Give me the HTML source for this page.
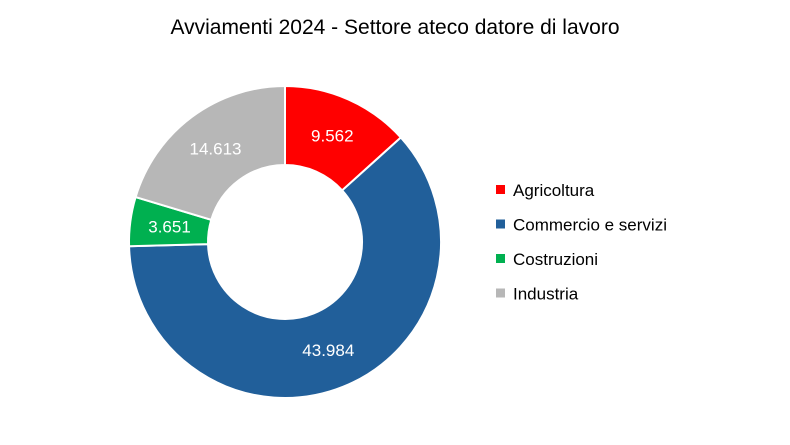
<!DOCTYPE html>
<html><head><meta charset="utf-8">
<style>
body{margin:0;background:#fff;font-family:"Liberation Sans",Arial,sans-serif;}
svg text{font-family:"Liberation Sans",Arial,sans-serif;}
</style></head>
<body>
<svg id="chart" width="790" height="440" viewBox="0 0 790 440">
<rect width="790" height="440" fill="#fff"/>
<text x="395" y="34" text-anchor="middle" font-size="21" fill="#000">Avviamenti 2024 - Settore ateco datore di lavoro</text>
<g id="slices"></g>
<g id="labels"></g>
<g id="legend"></g>
</svg>
<script>
const categories = ["Agricoltura","Commercio e servizi","Costruzioni","Industria"];
const values = [9562, 43984, 3651, 14613];
const valueLabels = ["9.562","43.984","3.651","14.613"];
const colors = ["#ff0000","#215f9a","#00b050","#b7b7b7"];

const NS="http://www.w3.org/2000/svg";
const cx=285, cy=242, R=156, r=77;
const total=values.reduce((a,b)=>a+b,0);
const gS=document.getElementById('slices'), gL=document.getElementById('labels'), gG=document.getElementById('legend');
function pt(rad,a){return [cx+rad*Math.sin(a), cy-rad*Math.cos(a)];}
let acc=0;
values.forEach((v,i)=>{
  const a0=acc/total*2*Math.PI; acc+=v; const a1=acc/total*2*Math.PI;
  const large=(a1-a0)>Math.PI?1:0;
  const p0=pt(R,a0),p1=pt(R,a1),q1=pt(r,a1),q0=pt(r,a0);
  const d=`M${p0[0]},${p0[1]} A${R},${R} 0 ${large} 1 ${p1[0]},${p1[1]} L${q1[0]},${q1[1]} A${r},${r} 0 ${large} 0 ${q0[0]},${q0[1]} Z`;
  const path=document.createElementNS(NS,'path');
  path.setAttribute('d',d);path.setAttribute('fill',colors[i]);path.setAttribute('stroke','#fff');path.setAttribute('stroke-width','2');
  
  
  gS.appendChild(path);
  const m=(a0+a1)/2, lp=pt((R+r)/2,m);
  const t=document.createElementNS(NS,'text');
  t.setAttribute('x',lp[0]);t.setAttribute('y',lp[1]+6);t.setAttribute('text-anchor','middle');
  t.setAttribute('font-size','17');t.setAttribute('fill','#fff');t.textContent=valueLabels[i];
  
  
  gL.appendChild(t);
  const ly=190+i*34.5;
  const sq=document.createElementNS(NS,'rect');
  sq.setAttribute('x',496);sq.setAttribute('y',ly-5);sq.setAttribute('width',9);sq.setAttribute('height',9);sq.setAttribute('fill',colors[i]);
  
  
  gG.appendChild(sq);
  const lt=document.createElementNS(NS,'text');
  lt.setAttribute('x',513);lt.setAttribute('y',ly+6);lt.setAttribute('font-size','17');lt.setAttribute('fill','#000');
  lt.textContent=categories[i];
  
  
  gG.appendChild(lt);
});
</script>
</body></html>
